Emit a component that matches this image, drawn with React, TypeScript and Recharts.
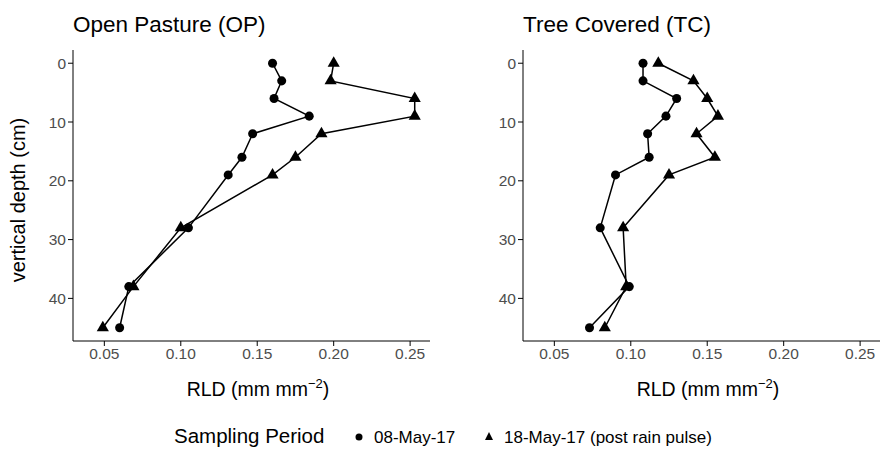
import React from "react";
import { ScatterChart, Scatter, XAxis, YAxis } from "recharts";

const depths = [0, 3, 6, 9, 12, 16, 19, 28, 38, 45];
const opMay08 = [0.16, 0.166, 0.161, 0.184, 0.147, 0.14, 0.131, 0.105, 0.066, 0.06];
const opMay18 = [0.2, 0.198, 0.253, 0.253, 0.192, 0.175, 0.16, 0.1, 0.069, 0.049];
const tcMay08 = [0.108, 0.108, 0.13, 0.123, 0.111, 0.112, 0.09, 0.08, 0.099, 0.073];
const tcMay18 = [0.118, 0.141, 0.15, 0.157, 0.143, 0.155, 0.125, 0.095, 0.097, 0.083];
const xTicks = [0.05, 0.1, 0.15, 0.2, 0.25];
const yTicks = [0, 10, 20, 30, 40];

const mk = (vals: number[]) => vals.map((v, i) => ({ x: v, y: depths[i] }));

const tick = { fill: "#4d4d4d", fontSize: 15.5, fontFamily: "Liberation Sans, Arial" };

function Panel({ a, b }: { a: number[]; b: number[] }) {
  return (
    <ScatterChart width={440} height={400} margin={{ top: 50, right: 10, left: 0, bottom: 0 }}>
      <XAxis
        type="number"
        dataKey="x"
        domain={[0.0295, 0.263]}
        ticks={xTicks}
        tickFormatter={(v: number) => v.toFixed(2)}
        height={59}
        tick={tick}
        stroke="#000"
        tickSize={5}
        allowDataOverflow
      />
      <YAxis
        type="number"
        dataKey="y"
        domain={[-2.25, 47.25]}
        reversed
        ticks={yTicks}
        width={73}
        tick={tick}
        stroke="#000"
        tickSize={5}
        allowDataOverflow
      />
      <Scatter data={mk(a)} line={{ stroke: "#000", strokeWidth: 1.5 }} shape="circle" fill="#000" isAnimationActive={false} />
      <Scatter data={mk(b)} line={{ stroke: "#000", strokeWidth: 1.5 }} shape="triangle" fill="#000" isAnimationActive={false} />
    </ScatterChart>
  );
}

export default function App() {
  const f = "Liberation Sans, Arial, sans-serif";
  return (
    <div style={{ position: "absolute", left: 0, top: 0, width: 883, height: 453, background: "#fff" }}>
      <div style={{ position: "absolute", left: 0, top: 0 }}>
        <Panel a={opMay08} b={opMay18} />
      </div>
      <div style={{ position: "absolute", left: 450, top: 0 }}>
        <Panel a={tcMay08} b={tcMay18} />
      </div>
      <svg width={883} height={453} style={{ position: "absolute", left: 0, top: 0, pointerEvents: "none" }} fontFamily={f}>
        <text x={73} y={32} fontSize={22.5} fill="#000">Open Pasture (OP)</text>
        <text x={523} y={32} fontSize={22.5} fill="#000">Tree Covered (TC)</text>
        <text x={25} y={200} fontSize={20} fill="#000" textAnchor="middle" transform="rotate(-90 25 200)">vertical depth (cm)</text>
        <text x={258} y={396} fontSize={19.5} fill="#000" textAnchor="middle">
          RLD (mm mm<tspan dy={-8} fontSize={13}>−2</tspan><tspan dy={8}>)</tspan>
        </text>
        <text x={708} y={396} fontSize={19.5} fill="#000" textAnchor="middle">
          RLD (mm mm<tspan dy={-8} fontSize={13}>−2</tspan><tspan dy={8}>)</tspan>
        </text>
        <text x={174} y={443} fontSize={20.5} fill="#000">Sampling Period</text>
        <circle cx={359} cy={437} r={3.5} fill="#000" />
        <text x={374} y={443} fontSize={17} fill="#000">08-May-17</text>
        <polygon points="489,432 485,440 493,440" fill="#000" />
        <text x={504} y={443} fontSize={17} fill="#000">18-May-17 (post rain pulse)</text>
      </svg>
    </div>
  );
}
